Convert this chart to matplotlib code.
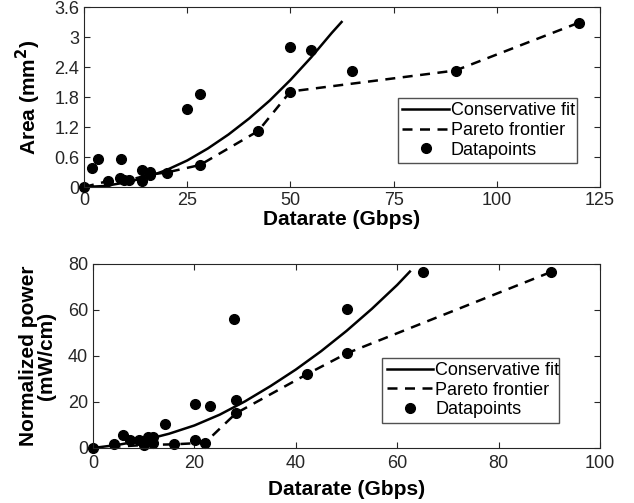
import matplotlib
matplotlib.use('Agg')
import matplotlib.pyplot as plt

plt.rcParams['font.family'] = ['Liberation Sans', 'DejaVu Sans']

# ---- top panel: area vs datarate ----
area_pts_x = [0, 2.0, 3.3, 5.9, 9.0, 8.6, 9.8, 11.0, 14.0, 14.0, 16.0, 16.0, 20.0,
              25.0, 28.2, 28.1, 42.2, 50.0, 50.0, 55.0, 65.0, 90.0, 120.0]
area_pts_y = [0, 0.39, 0.56, 0.12, 0.56, 0.19, 0.14, 0.14, 0.35, 0.12, 0.31, 0.25, 0.29,
              1.56, 1.87, 0.44, 1.12, 2.80, 1.91, 2.75, 2.33, 2.33, 3.29]
area_par_x = [0, 5.9, 11.0, 16.0, 20.0, 28.1, 42.2, 50.0, 90.0, 120.0]
area_par_y = [0, 0.12, 0.14, 0.25, 0.29, 0.44, 1.12, 1.91, 2.33, 3.29]
area_fit_x = [0, 5, 10, 15, 20, 25, 30, 35, 40, 45, 50, 55, 60, 62.4]
area_fit_y = [0, 0.02, 0.09, 0.19, 0.34, 0.53, 0.77, 1.05, 1.37, 1.73, 2.14, 2.59, 3.08, 3.3]

# ---- bottom panel: normalized power vs datarate ----
pow_pts_x = [0, 4.1, 5.9, 7.2, 9.0, 10.1, 10.9, 11.9, 11.9, 14.2, 16.0, 20.1, 20.1,
             22.1, 23.1, 27.9, 28.2, 28.2, 42.3, 50.1, 50.1, 65.1, 90.3]
pow_pts_y = [0, 1.6, 5.5, 3.5, 3.6, 1.3, 4.9, 4.9, 2.0, 10.4, 1.6, 19.2, 3.6,
             2.3, 18.3, 56.0, 20.9, 15.1, 32.2, 60.3, 41.2, 76.5, 76.5]
pow_par_x = [0, 10.1, 16.0, 22.1, 28.2, 42.3, 50.1, 90.3]
pow_par_y = [0, 1.3, 1.6, 2.3, 15.1, 32.2, 41.2, 76.5]
pow_fit_x = [0, 5, 10, 15, 20, 25, 30, 35, 40, 45, 50, 55, 60, 62.5]
pow_fit_y = [0, 1.4, 3.4, 6.2, 9.8, 14.5, 20.3, 26.9, 34.1, 42.1, 50.9, 60.5, 70.9, 76.7]

fig = plt.figure(figsize=(6.34, 5.03), dpi=100)
ax1 = fig.add_axes([84/634, 1-187/503, 516/634, 180/503])
ax2 = fig.add_axes([93/634, 1-448/503, 507/634, 184/503])

grey = '#262626'


def style(ax):
    ax.tick_params(direction='in', top=True, right=True, labelsize=13,
                   colors=grey, length=4, width=0.8)
    for s in ax.spines.values():
        s.set_color(grey)
        s.set_linewidth(0.8)


def draw(ax, fx, fy, px, py, dx, dy):
    ax.plot(fx, fy, '-', color='k', lw=1.8, label='Conservative fit')
    ax.plot(px, py, '--', color='k', lw=1.8, dashes=(4, 3), label='Pareto frontier')
    ax.plot(dx, dy, 'o', color='k', ms=7, clip_on=False, label='Datapoints')


def legend(ax, box):
    ax.legend(loc='lower left', bbox_to_anchor=box, mode='expand',
              fontsize=13, frameon=True, fancybox=False, edgecolor=grey,
              handlelength=2.6, handletextpad=0.1, borderpad=0.25,
              labelspacing=0.15, borderaxespad=0)


draw(ax1, area_fit_x, area_fit_y, area_par_x, area_par_y, area_pts_x, area_pts_y)
ax1.set_xlim(0, 125)
ax1.set_ylim(0, 3.6)
ax1.set_xticks([0, 25, 50, 75, 100, 125])
ax1.set_yticks([0, 0.6, 1.2, 1.8, 2.4, 3.0, 3.6])
ax1.set_yticklabels(['0', '0.6', '1.2', '1.8', '2.4', '3', '3.6'])
ax1.set_xlabel('Datarate (Gbps)', fontsize=15, fontweight='bold', labelpad=1)
ax1.set_ylabel('Area (mm$^\\mathbf{2}$)', fontsize=15, fontweight='bold')
ax1.yaxis.set_label_coords(-0.08, 0.5)
style(ax1)
legend(ax1, (0.608, 0.133, 0.347, 0.41))

draw(ax2, pow_fit_x, pow_fit_y, pow_par_x, pow_par_y, pow_pts_x, pow_pts_y)
ax2.set_xlim(0, 100)
ax2.set_ylim(0, 80)
ax2.set_xticks([0, 20, 40, 60, 80, 100])
ax2.set_yticks([0, 20, 40, 60, 80])
ax2.set_xlabel('Datarate (Gbps)', fontsize=15, fontweight='bold', labelpad=6)
ax2.set_ylabel('Normalized power\n(mW/cm)', fontsize=15, fontweight='bold', linespacing=0.95)
ax2.yaxis.set_label_coords(-0.072, 0.5)
style(ax2)
ax2.tick_params(axis='x', pad=5)
legend(ax2, (0.57, 0.136, 0.35, 0.36))

fig.savefig('out.png', dpi=100)
